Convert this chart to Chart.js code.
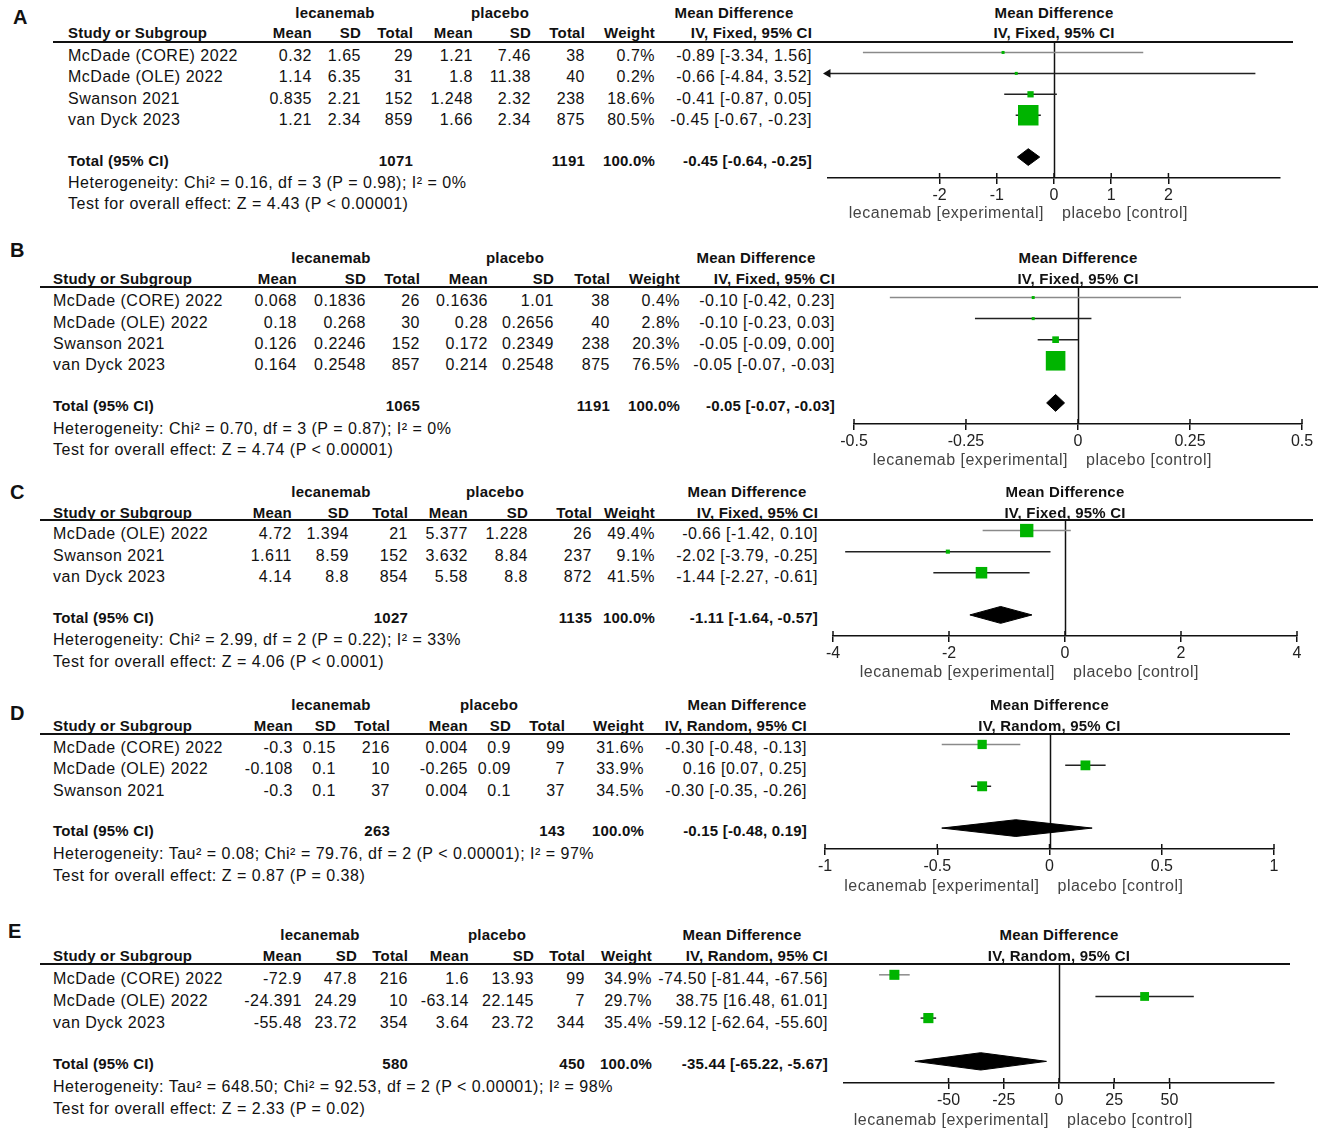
<!DOCTYPE html>
<html><head><meta charset="utf-8">
<script src="https://cdn.jsdelivr.net/npm/chart.js"></script>
<style>
html,body{margin:0;padding:0;background:#fff;}
#root{position:relative;width:1325px;height:1133px;overflow:hidden;font-family:"Liberation Sans",Arial,sans-serif;color:#111;}
.t{position:absolute;white-space:nowrap;font-size:16px;line-height:18px;height:18px;letter-spacing:0.5px;}
.b{font-weight:bold;font-size:15px;letter-spacing:0.2px;}
.ax{color:#444;}
.lab{font-weight:bold;font-size:20px;line-height:22px;height:22px;letter-spacing:0;}
.hl{position:absolute;height:2px;background:#111;}
canvas{position:absolute;}
</style></head><body><div id="root"></div>
<script>
// ---------------- Panel A ----------------
const studiesA = ["McDade (CORE) 2022","McDade (OLE) 2022","Swanson 2021","van Dyck 2023"];
const lecMeanA = [0.32, 1.14, 0.835, 1.21];
const lecSdA = [1.65, 6.35, 2.21, 2.34];
const lecTotalA = [29, 31, 152, 859];
const plaMeanA = [1.21, 1.8, 1.248, 1.66];
const plaSdA = [7.46, 11.38, 2.32, 2.34];
const plaTotalA = [38, 40, 238, 875];
const weightA = [0.7, 0.2, 18.6, 80.5];
const mdA = [-0.89, -0.66, -0.41, -0.45];
const ciLowA = [-3.34, -4.84, -0.87, -0.67];
const ciHighA = [1.56, 3.52, 0.05, -0.23];
const pooledA = [-0.45, -0.64, -0.25];
const sumTotalsA = [1071, 1191];
const hetA = "Heterogeneity: Chi² = 0.16, df = 3 (P = 0.98); I² = 0%";
const testA = "Test for overall effect: Z = 4.43 (P < 0.00001)";
const methodA = "IV, Fixed, 95% CI";
const tickValsA = [-2, -1, 0, 1, 2];
const tickLabelsA = ["-2", "-1", "0", "1", "2"];
const rangeA = [-3.95, 3.95];

// ---------------- Panel B ----------------
const studiesB = ["McDade (CORE) 2022","McDade (OLE) 2022","Swanson 2021","van Dyck 2023"];
const lecMeanB = [0.068, 0.18, 0.126, 0.164];
const lecSdB = [0.1836, 0.268, 0.2246, 0.2548];
const lecTotalB = [26, 30, 152, 857];
const plaMeanB = [0.1636, 0.28, 0.172, 0.214];
const plaSdB = [1.01, 0.2656, 0.2349, 0.2548];
const plaTotalB = [38, 40, 238, 875];
const weightB = [0.4, 2.8, 20.3, 76.5];
const mdB = [-0.10, -0.10, -0.05, -0.05];
const ciLowB = [-0.42, -0.23, -0.09, -0.07];
const ciHighB = [0.23, 0.03, 0.00, -0.03];
const pooledB = [-0.05, -0.07, -0.03];
const sumTotalsB = [1065, 1191];
const hetB = "Heterogeneity: Chi² = 0.70, df = 3 (P = 0.87); I² = 0%";
const testB = "Test for overall effect: Z = 4.74 (P < 0.00001)";
const methodB = "IV, Fixed, 95% CI";
const tickValsB = [-0.5, -0.25, 0, 0.25, 0.5];
const tickLabelsB = ["-0.5", "-0.25", "0", "0.25", "0.5"];
const rangeB = [-0.5, 0.5];

// ---------------- Panel C ----------------
const studiesC = ["McDade (OLE) 2022","Swanson 2021","van Dyck 2023"];
const lecMeanC = [4.72, 1.611, 4.14];
const lecSdC = [1.394, 8.59, 8.8];
const lecTotalC = [21, 152, 854];
const plaMeanC = [5.377, 3.632, 5.58];
const plaSdC = [1.228, 8.84, 8.8];
const plaTotalC = [26, 237, 872];
const weightC = [49.4, 9.1, 41.5];
const mdC = [-0.66, -2.02, -1.44];
const ciLowC = [-1.42, -3.79, -2.27];
const ciHighC = [0.10, -0.25, -0.61];
const pooledC = [-1.11, -1.64, -0.57];
const sumTotalsC = [1027, 1135];
const hetC = "Heterogeneity: Chi² = 2.99, df = 2 (P = 0.22); I² = 33%";
const testC = "Test for overall effect: Z = 4.06 (P < 0.0001)";
const methodC = "IV, Fixed, 95% CI";
const tickValsC = [-4, -2, 0, 2, 4];
const tickLabelsC = ["-4", "-2", "0", "2", "4"];
const rangeC = [-4, 4];

// ---------------- Panel D ----------------
const studiesD = ["McDade (CORE) 2022","McDade (OLE) 2022","Swanson 2021"];
const lecMeanD = [-0.3, -0.108, -0.3];
const lecSdD = [0.15, 0.1, 0.1];
const lecTotalD = [216, 10, 37];
const plaMeanD = [0.004, -0.265, 0.004];
const plaSdD = [0.9, 0.09, 0.1];
const plaTotalD = [99, 7, 37];
const weightD = [31.6, 33.9, 34.5];
const mdD = [-0.30, 0.16, -0.30];
const ciLowD = [-0.48, 0.07, -0.35];
const ciHighD = [-0.13, 0.25, -0.26];
const pooledD = [-0.15, -0.48, 0.19];
const sumTotalsD = [263, 143];
const hetD = "Heterogeneity: Tau² = 0.08; Chi² = 79.76, df = 2 (P < 0.00001); I² = 97%";
const testD = "Test for overall effect: Z = 0.87 (P = 0.38)";
const methodD = "IV, Random, 95% CI";
const tickValsD = [-1, -0.5, 0, 0.5, 1];
const tickLabelsD = ["-1", "-0.5", "0", "0.5", "1"];
const rangeD = [-1, 1];

// ---------------- Panel E ----------------
const studiesE = ["McDade (CORE) 2022","McDade (OLE) 2022","van Dyck 2023"];
const lecMeanE = [-72.9, -24.391, -55.48];
const lecSdE = [47.8, 24.29, 23.72];
const lecTotalE = [216, 10, 354];
const plaMeanE = [1.6, -63.14, 3.64];
const plaSdE = [13.93, 22.145, 23.72];
const plaTotalE = [99, 7, 344];
const weightE = [34.9, 29.7, 35.4];
const mdE = [-74.50, 38.75, -59.12];
const ciLowE = [-81.44, 16.48, -62.64];
const ciHighE = [-67.56, 61.01, -55.60];
const pooledE = [-35.44, -65.22, -5.67];
const sumTotalsE = [580, 450];
const hetE = "Heterogeneity: Tau² = 648.50; Chi² = 92.53, df = 2 (P < 0.00001); I² = 98%";
const testE = "Test for overall effect: Z = 2.33 (P = 0.02)";
const methodE = "IV, Random, 95% CI";
const tickValsE = [-50, -25, 0, 25, 50];
const tickLabelsE = ["-50", "-25", "0", "25", "50"];
const rangeE = [-97.3, 97.3];

const panelLetters = ["A","B","C","D","E"];

// ---------------- layout (positions only) ----------------
const LAYOUT = [
 {letter:[13,17], lineL:53, lineR:1293, study:68, cols:[312,361,413,473,531,585,655,812], lecC:335, plaC:500, mdC:734,
  yH1:13, yH2:33, rows:[56,77,99,120], yTot:161, yHet:183, yTest:204, headY:42, axisY:178, axL:828, axR:1280, titleY:213},
 {letter:[10,250], lineL:40, lineR:1318, study:53, cols:[297,366,420,488,554,610,680,835], lecC:331, plaC:515, mdC:756,
  yH1:258, yH2:279, rows:[301,323,344,365], yTot:406, yHet:429, yTest:450, headY:287, axisY:424, axL:854, axR:1302, titleY:460},
 {letter:[10,492], lineL:40, lineR:1313, study:53, cols:[292,349,408,468,528,592,655,818], lecC:331, plaC:495, mdC:747,
  yH1:492, yH2:513, rows:[534,556,577], yTot:618, yHet:640, yTest:662, headY:520, axisY:636, axL:833, axR:1297, titleY:672},
 {letter:[10,713], lineL:40, lineR:1290, study:53, cols:[293,336,390,468,511,565,644,807], lecC:331, plaC:489, mdC:747,
  yH1:705, yH2:726, rows:[748,769,791], yTot:831, yHet:854, yTest:876, headY:734, axisY:849, axL:825, axR:1274, titleY:886},
 {letter:[8,931], lineL:40, lineR:1290, study:53, cols:[302,357,408,469,534,585,652,828], lecC:320, plaC:497, mdC:742,
  yH1:935, yH2:956, rows:[979,1001,1023], yTot:1064, yHet:1087, yTest:1109, headY:964, axisY:1083, axL:844, axR:1274, titleY:1120}
];

const PANELS = [
 {studies:studiesA, lecMean:lecMeanA, lecSd:lecSdA, lecTotal:lecTotalA, plaMean:plaMeanA, plaSd:plaSdA, plaTotal:plaTotalA, weight:weightA, md:mdA, lo:ciLowA, hi:ciHighA, pooled:pooledA, sums:sumTotalsA, het:hetA, test:testA, method:methodA, ticks:tickValsA, tickLabels:tickLabelsA, range:rangeA},
 {studies:studiesB, lecMean:lecMeanB, lecSd:lecSdB, lecTotal:lecTotalB, plaMean:plaMeanB, plaSd:plaSdB, plaTotal:plaTotalB, weight:weightB, md:mdB, lo:ciLowB, hi:ciHighB, pooled:pooledB, sums:sumTotalsB, het:hetB, test:testB, method:methodB, ticks:tickValsB, tickLabels:tickLabelsB, range:rangeB},
 {studies:studiesC, lecMean:lecMeanC, lecSd:lecSdC, lecTotal:lecTotalC, plaMean:plaMeanC, plaSd:plaSdC, plaTotal:plaTotalC, weight:weightC, md:mdC, lo:ciLowC, hi:ciHighC, pooled:pooledC, sums:sumTotalsC, het:hetC, test:testC, method:methodC, ticks:tickValsC, tickLabels:tickLabelsC, range:rangeC},
 {studies:studiesD, lecMean:lecMeanD, lecSd:lecSdD, lecTotal:lecTotalD, plaMean:plaMeanD, plaSd:plaSdD, plaTotal:plaTotalD, weight:weightD, md:mdD, lo:ciLowD, hi:ciHighD, pooled:pooledD, sums:sumTotalsD, het:hetD, test:testD, method:methodD, ticks:tickValsD, tickLabels:tickLabelsD, range:rangeD},
 {studies:studiesE, lecMean:lecMeanE, lecSd:lecSdE, lecTotal:lecTotalE, plaMean:plaMeanE, plaSd:plaSdE, plaTotal:plaTotalE, weight:weightE, md:mdE, lo:ciLowE, hi:ciHighE, pooled:pooledE, sums:sumTotalsE, het:hetE, test:testE, method:methodE, ticks:tickValsE, tickLabels:tickLabelsE, range:rangeE}
];

const root = document.getElementById('root');
const GREEN = '#00b400';

function txt(str, x, y, align, cls) {
  const d = document.createElement('div');
  d.className = 't ' + (cls || '');
  d.textContent = str;
  const h = (cls && cls.indexOf('lab') >= 0) ? 22 : 18;
  d.style.top = (y - h / 2) + 'px';
  d.style.left = x + 'px';
  if (align === 'r') d.style.transform = 'translateX(-100%)';
  else if (align === 'c') d.style.transform = 'translateX(-50%)';
  root.appendChild(d);
  return d;
}
function hline(x1, x2, y) {
  const d = document.createElement('div');
  d.className = 'hl';
  d.style.left = x1 + 'px'; d.style.width = (x2 - x1) + 'px'; d.style.top = (y - 1) + 'px';
  root.appendChild(d);
}
const f2 = v => v.toFixed(2);
const ciText = (m, l, h) => f2(m) + ' [' + f2(l) + ', ' + f2(h) + ']';
function boxRadius(w) {
  const side = Math.max(3, 0.23 * w + 2);
  return side / Math.SQRT2;
}

const refPlugin = {
  id: 'forestRefs',
  beforeDatasetsDraw(chart) {
    const {ctx, chartArea, scales: {x}} = chart;
    ctx.save();
    ctx.strokeStyle = '#111'; ctx.lineWidth = 1.5;
    const x0 = Math.round(x.getPixelForValue(0)) + 0.5;
    ctx.beginPath(); ctx.moveTo(x0, chartArea.top); ctx.lineTo(x0, chartArea.bottom); ctx.stroke();
    x.ticks.forEach(t => {
      const px = x.getPixelForValue(t.value);
      ctx.beginPath(); ctx.moveTo(px, chartArea.bottom - 5); ctx.lineTo(px, chartArea.bottom); ctx.stroke();
    });
    ctx.restore();
  }
};

PANELS.forEach((P, k) => {
  const L = LAYOUT[k];
  const n = P.studies.length;
  // ---- table text ----
  txt(panelLetters[k], L.letter[0], L.letter[1], 'l', 'lab');
  txt('lecanemab', L.lecC, L.yH1, 'c', 'b');
  txt('placebo', L.plaC, L.yH1, 'c', 'b');
  txt('Mean Difference', L.mdC, L.yH1, 'c', 'b');
  txt('Study or Subgroup', L.study, L.yH2, 'l', 'b');
  ['Mean','SD','Total','Mean','SD','Total','Weight', P.method].forEach((h, j) => txt(h, L.cols[j], L.yH2, 'r', 'b'));
  hline(L.lineL, L.lineR, L.headY);
  P.studies.forEach((s, i) => {
    const y = L.rows[i];
    txt(s, L.study, y, 'l');
    const vals = [String(P.lecMean[i]), String(P.lecSd[i]), String(P.lecTotal[i]),
                  String(P.plaMean[i]), String(P.plaSd[i]), String(P.plaTotal[i]),
                  P.weight[i].toFixed(1) + '%', ciText(P.md[i], P.lo[i], P.hi[i])];
    vals.forEach((v, j) => txt(v, L.cols[j], y, 'r'));
  });
  txt('Total (95% CI)', L.study, L.yTot, 'l', 'b');
  txt(String(P.sums[0]), L.cols[2], L.yTot, 'r', 'b');
  txt(String(P.sums[1]), L.cols[5], L.yTot, 'r', 'b');
  txt('100.0%', L.cols[6], L.yTot, 'r', 'b');
  txt(ciText(P.pooled[0], P.pooled[1], P.pooled[2]), L.cols[7], L.yTot, 'r', 'b');
  txt(P.het, L.study, L.yHet, 'l');
  txt(P.test, L.study, L.yTest, 'l');

  // ---- forest plot ----
  const pad = 30, axisH = 36;
  const w = L.axR - L.axL + 2 * pad, h = L.axisY - L.headY + axisH;
  const cv = document.createElement('canvas');
  cv.width = w; cv.height = h;
  cv.style.left = (L.axL - pad) + 'px'; cv.style.top = L.headY + 'px';
  cv.style.width = w + 'px'; cv.style.height = h + 'px';
  root.appendChild(cv);

  const T = n + 1, hh = 0.4;
  const datasets = [];
  datasets.push({
    data: P.md.map((m, i) => ({x: m, y: i})),
    showLine: false, pointStyle: 'rect',
    pointRadius: P.weight.map(boxRadius),
    pointBackgroundColor: GREEN, pointBorderColor: GREEN, pointBorderWidth: 0
  });
  datasets.push({
    data: [{x: P.pooled[1], y: T}, {x: P.pooled[0], y: T - hh}, {x: P.pooled[2], y: T}, {x: P.pooled[0], y: T + hh}, {x: P.pooled[1], y: T}],
    showLine: true, fill: 'shape', backgroundColor: '#000', borderColor: '#000', borderWidth: 1, pointRadius: 0
  });
  const leftArrows = [], rightArrows = [];
  P.lo.forEach((l, i) => { if (l < P.range[0]) leftArrows.push({x: P.range[0], y: i}); });
  P.hi.forEach((hv, i) => { if (hv > P.range[1]) rightArrows.push({x: P.range[1], y: i}); });
  if (leftArrows.length) datasets.push({data: leftArrows, showLine: false, pointStyle: 'triangle', pointRotation: 270, pointRadius: 5,
    pointBackgroundColor: '#111', pointBorderColor: '#111', pointBorderWidth: 0, clip: false});
  if (rightArrows.length) datasets.push({data: rightArrows, showLine: false, pointStyle: 'triangle', pointRotation: 90, pointRadius: 5,
    pointBackgroundColor: '#111', pointBorderColor: '#111', pointBorderWidth: 0, clip: false});
  P.lo.forEach((l, i) => datasets.push({
    data: [{x: l, y: i}, {x: P.hi[i], y: i}], showLine: true, pointRadius: 0,
    borderColor: i === 0 ? '#8a8a8a' : '#222', borderWidth: 1.5, fill: false
  }));

  const chart = new Chart(cv, {
    type: 'line',
    data: {datasets},
    options: {
      responsive: false, animation: false, devicePixelRatio: 1,
      layout: {autoPadding: false, padding: {left: pad, right: pad, top: 0, bottom: 0}},
      plugins: {legend: {display: false}, tooltip: {enabled: false}},
      elements: {line: {tension: 0}},
      scales: {
        x: {
          type: 'linear', position: 'bottom', min: P.range[0], max: P.range[1],
          afterBuildTicks: s => { s.ticks = P.ticks.map(v => ({value: v})); },
          afterFit: s => { s.height = axisH; },
          ticks: {callback: (v, i) => P.tickLabels[i], color: '#222', autoSkip: false, maxRotation: 0, padding: 2,
                  font: {family: 'Liberation Sans', size: 16}},
          grid: {drawOnChartArea: false, drawTicks: true, tickLength: 6, color: '#111', lineWidth: 1.5},
          border: {display: true, color: '#111', width: 1.5}
        },
        y: {type: 'linear', display: false, reverse: true, min: -0.5, max: n + 2}
      }
    },
    plugins: [refPlugin]
  });

  // plot header & axis captions, aligned on the chart's own zero
  const zeroPx = (L.axL - pad) + chart.scales.x.getPixelForValue(0);
  txt('Mean Difference', zeroPx, L.yH1, 'c', 'b');
  txt(P.method, zeroPx, L.yH2, 'c', 'b');
  txt('lecanemab [experimental]', zeroPx - 10, L.titleY, 'r', 'ax');
  txt('placebo [control]', zeroPx + 8, L.titleY, 'l', 'ax');
});
</script>
</body></html>
